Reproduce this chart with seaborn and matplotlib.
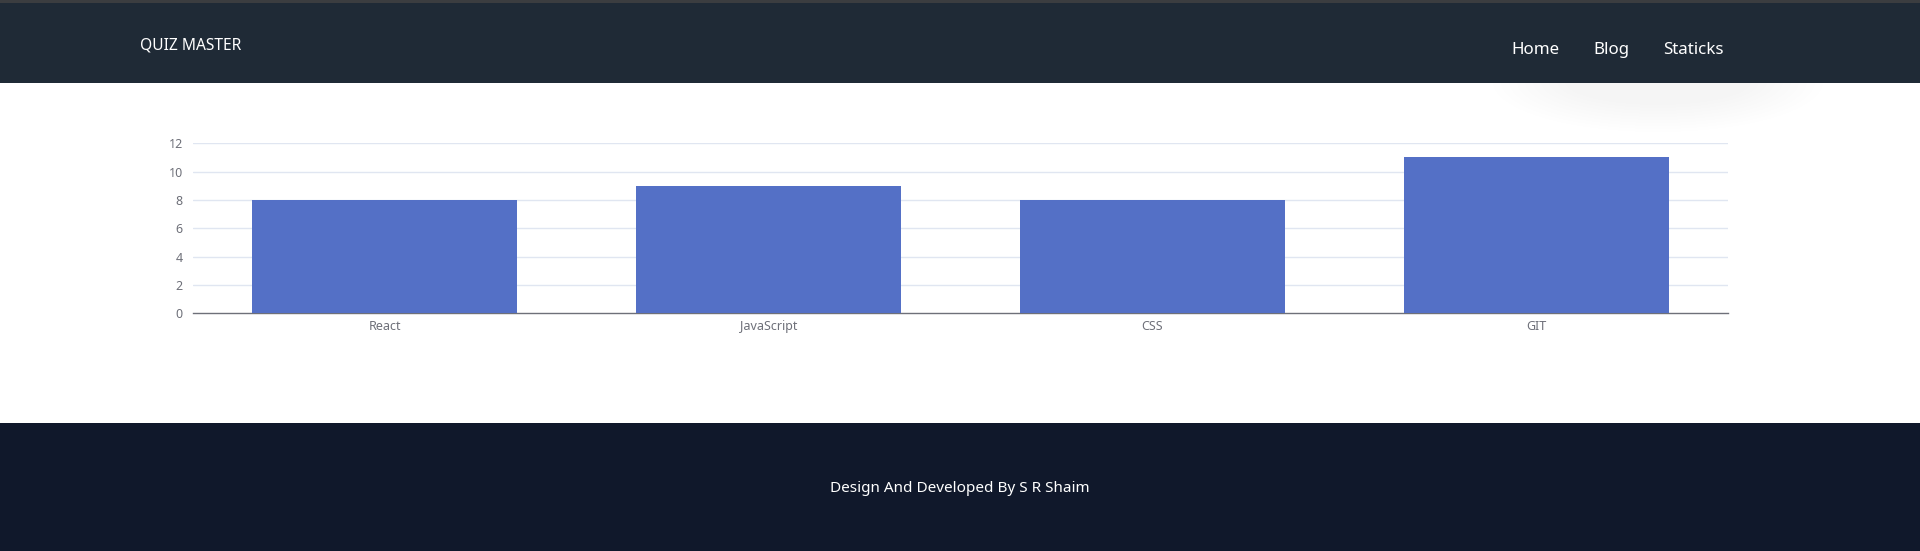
import matplotlib
matplotlib.use("Agg")
import matplotlib.pyplot as plt
from matplotlib.patches import Rectangle, Ellipse
import pandas as pd
import seaborn as sns

# quiz topics and number of questions
topics = ["React", "JavaScript", "CSS", "GIT"]
totals = [8, 9, 8, 11]
y_ticks = [0, 2, 4, 6, 8, 10, 12]

brand = "QUIZ MASTER"
nav_items = ["Home", "Blog", "Staticks"]
footer_text = "Design And Developed By S R Shaim"

df = pd.DataFrame({"topic": topics, "total": totals})

sns.set_style("white")
plt.rcParams["font.family"] = ["Noto Sans", "DejaVu Sans"]

W, H = 1920, 551
fig = plt.figure(figsize=(W / 100, H / 100), dpi=100)
fig.patch.set_facecolor("white")

def fx(px):
    return px / W

def fy(py):
    # pixel from top -> figure fraction
    return 1 - py / H

# soft shadow under the nav block
for i in range(10):
    fig.patches.append(Ellipse((fx(1658), fy(82)), (330 - i * 16) / W, (100 - i * 6) / H,
                               transform=fig.transFigure, color="black", alpha=0.004,
                               lw=0, zorder=0))

# header band
fig.patches.append(Rectangle((0, fy(83)), 1, 80 / H, transform=fig.transFigure,
                             color="#1f2a36", lw=0, zorder=1))
fig.patches.append(Rectangle((0, fy(3)), 1, 3 / H, transform=fig.transFigure,
                             color="#3b3d40", lw=0, zorder=1))
# footer band
fig.patches.append(Rectangle((0, 0), 1, (H - 422.5) / H, transform=fig.transFigure,
                             color="#10182b", lw=0, zorder=1))

fig.text(fx(140), fy(45), brand, color="white", fontsize=11.2, va="center", ha="left")
nav_x = [1511, 1593, 1663]
for name, x in zip(nav_items, nav_x):
    fig.text(fx(x), fy(49.5), name, color="white", fontsize=12.2, va="center", ha="left")
fig.text(fx(960), fy(488), footer_text, color="white", fontsize=11, va="center", ha="center")

# chart
ax = fig.add_axes([fx(192.7), fy(313.3), (1728.3 - 192.7) / W, (313.3 - 143.3) / H])
sns.barplot(data=df, x="topic", y="total", color="#5470c6", saturation=1,
            width=0.69, linewidth=0, ax=ax, zorder=3)
ax.set_xlim(-0.5, len(topics) - 0.5)
ax.set_ylim(0, 12)
ax.set_yticks(y_ticks)
ax.set_xlabel("")
ax.set_ylabel("")
ax.set_facecolor("none")

for yv in y_ticks[1:]:
    ax.axhline(yv, color="#e0e6f1", lw=1, zorder=1)

for side in ["top", "right", "left"]:
    ax.spines[side].set_visible(False)
ax.spines["bottom"].set_color("#6e7079")
ax.spines["bottom"].set_linewidth(1)

ax.tick_params(axis="y", length=0, pad=7, labelsize=9, labelcolor="#6e7079")
ax.tick_params(axis="x", which="major", length=0, pad=5, labelsize=9, labelcolor="#6e7079")
ax.set_xticks([i - 0.5 for i in range(len(topics) + 1)], minor=True)
ax.tick_params(axis="x", which="minor", length=4, width=1, color="#6e7079")

fig.savefig("out.png", dpi=100)
